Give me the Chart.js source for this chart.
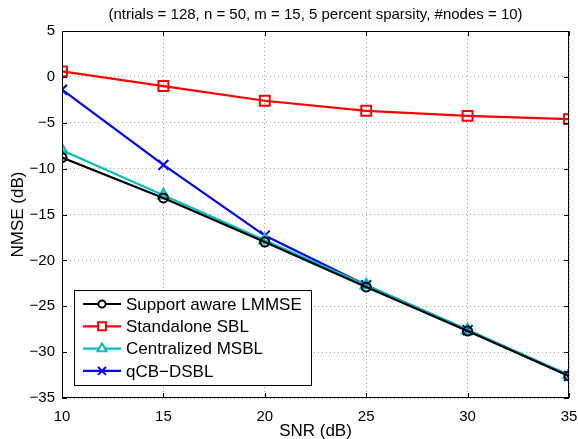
<!DOCTYPE html>
<html>
<head>
<meta charset="utf-8">
<script src="https://cdn.jsdelivr.net/npm/chart.js@4/dist/chart.umd.min.js"></script>
<style>
  html, body { margin: 0; padding: 0; background: #fff; }
  #wrap { width: 578px; height: 439px; }
</style>
</head>
<body>
<div id="wrap"><canvas id="nmseChart" width="578" height="439"></canvas></div>
<script>
const SNR = [10, 15, 20, 25, 30, 35];
const LMMSE = [-8.8, -13.2, -18.0, -22.9, -27.7, -32.6];
const SBL = [0.6, -1.0, -2.6, -3.7, -4.25, -4.6];
const MSBL = [-8.0, -12.9, -17.8, -22.7, -27.6, -32.5];
const QCB = [-1.4, -9.6, -17.3, -22.7, -27.6, -32.6];
const X_TICKS = [10, 15, 20, 25, 30, 35];
const Y_TICKS = [5, 0, -5, -10, -15, -20, -25, -30, -35];

const TITLE = "(ntrials = 128, n = 50, m = 15, 5 percent sparsity, #nodes = 10)";
const FONT = "'Liberation Sans', Arial, Helvetica, sans-serif";

const MARK_R = { circle: 4.5, rect: 7, triangle: 6.5, crossRot: 7 };

function pts(ys){ return SNR.map((x,i)=>({x:x, y:ys[i]})); }

function series(label, ys, color, style){
  return {
    label: label,
    data: pts(ys),
    borderColor: color,
    backgroundColor: "rgba(0,0,0,0)",
    borderWidth: 2.2,
    pointStyle: style,
    pointRadius: MARK_R[style],
    pointBorderWidth: 2,
    pointBorderColor: color,
    pointBackgroundColor: "rgba(0,0,0,0)",
    tension: 0
  };
}

/* box, inner ticks, title, legend */
const matlabLook = {
  id: "matlabLook",
  afterDraw(chart){
    const ctx = chart.ctx;
    const a = chart.chartArea;
    const xs = chart.scales.x, ys = chart.scales.y;
    ctx.save();
    ctx.strokeStyle = "#000";
    ctx.lineWidth = 1;
    ctx.strokeRect(a.left + 0.5, a.top + 0.5, a.right - a.left - 1, a.bottom - a.top - 1);
    const tl = 5;
    ctx.beginPath();
    X_TICKS.forEach(v=>{
      const px = Math.round(xs.getPixelForValue(v)) + 0.5;
      ctx.moveTo(px, a.bottom); ctx.lineTo(px, a.bottom - tl);
      ctx.moveTo(px, a.top); ctx.lineTo(px, a.top + tl);
    });
    Y_TICKS.forEach(v=>{
      const py = Math.round(ys.getPixelForValue(v)) + 0.5;
      ctx.moveTo(a.left, py); ctx.lineTo(a.left + tl, py);
      ctx.moveTo(a.right, py); ctx.lineTo(a.right - tl, py);
    });
    ctx.stroke();

    // title
    ctx.fillStyle = "#000";
    ctx.font = "15px " + FONT;
    ctx.textAlign = "center";
    ctx.textBaseline = "middle";
    ctx.fillText(TITLE, (a.left + a.right) / 2, 15);

    // legend box, lower left
    const bx = 74, by = 290, bw = 237, bh = 95;
    ctx.fillStyle = "#fff";
    ctx.fillRect(bx, by, bw, bh);
    ctx.strokeStyle = "#000";
    ctx.lineWidth = 1;
    ctx.strokeRect(bx + 0.5, by + 0.5, bw, bh);
    ctx.font = "17px " + FONT;
    ctx.textAlign = "left";
    chart.data.datasets.forEach((ds, i)=>{
      const yy = by + 14 + i * 22.3;
      ctx.strokeStyle = ds.borderColor;
      ctx.lineWidth = 2.2;
      ctx.beginPath();
      ctx.moveTo(bx + 9, yy); ctx.lineTo(bx + 47, yy);
      ctx.stroke();
      ctx.lineWidth = 2;
      ctx.fillStyle = "#fff";
      Chart.helpers.drawPoint(ctx, {
        pointStyle: ds.pointStyle,
        radius: ds.pointRadius * 0.8,
        rotation: 0,
        borderWidth: 2
      }, bx + 28, yy);
      ctx.fillStyle = "#000";
      ctx.fillText(ds.label, bx + 52, yy + 1);
    });
    ctx.restore();
  }
};

new Chart(document.getElementById("nmseChart"), {
  type: "line",
  data: {
    datasets: [
      series("Support aware LMMSE", LMMSE, "#000000", "circle"),
      series("Standalone SBL", SBL, "#ff0000", "rect"),
      series("Centralized MSBL", MSBL, "#00bfbf", "triangle"),
      series("qCB\u2212DSBL", QCB, "#0000ff", "crossRot")
    ]
  },
  options: {
    responsive: false,
    animation: false,
    layout: { padding: { top: 31, right: 9, left: 0, bottom: 0 } },
    plugins: {
      legend: { display: false },
      title: { display: false },
      tooltip: { enabled: false }
    },
    scales: {
      x: {
        type: "linear",
        min: 10, max: 35,
        afterBuildTicks: s => { s.ticks = X_TICKS.map(v=>({value:v})); },
        afterFit: s => { s.height = 41; s.paddingLeft = 0; s.paddingRight = 0; },
        grid: { color: "#a8a8a8", lineWidth: 1, drawTicks: false },
        border: { display: false, dash: [1, 3] },
        ticks: { color: "#000", font: { family: FONT, size: 15 }, padding: 10, maxRotation: 0 },
        title: { display: true, text: "SNR (dB)", color: "#000", font: { family: FONT, size: 17, lineHeight: 1 }, padding: { top: 0, bottom: -1 } }
      },
      y: {
        min: -35, max: 5,
        afterBuildTicks: s => { s.ticks = Y_TICKS.map(v=>({value:v})); },
        afterFit: s => { s.width = 62; s.paddingTop = 0; s.paddingBottom = 0; },
        grid: { color: "#a8a8a8", lineWidth: 1, drawTicks: false },
        border: { display: false, dash: [1, 3] },
        ticks: {
          color: "#000", font: { family: FONT, size: 15 }, padding: 7,
          callback: v => String(v).replace("-", "\u2212")
        },
        title: { display: true, text: "NMSE (dB)", color: "#000", font: { family: FONT, size: 17 }, padding: { top: 8, bottom: 0 } }
      }
    }
  },
  plugins: [matlabLook]
});
</script>
</body>
</html>
